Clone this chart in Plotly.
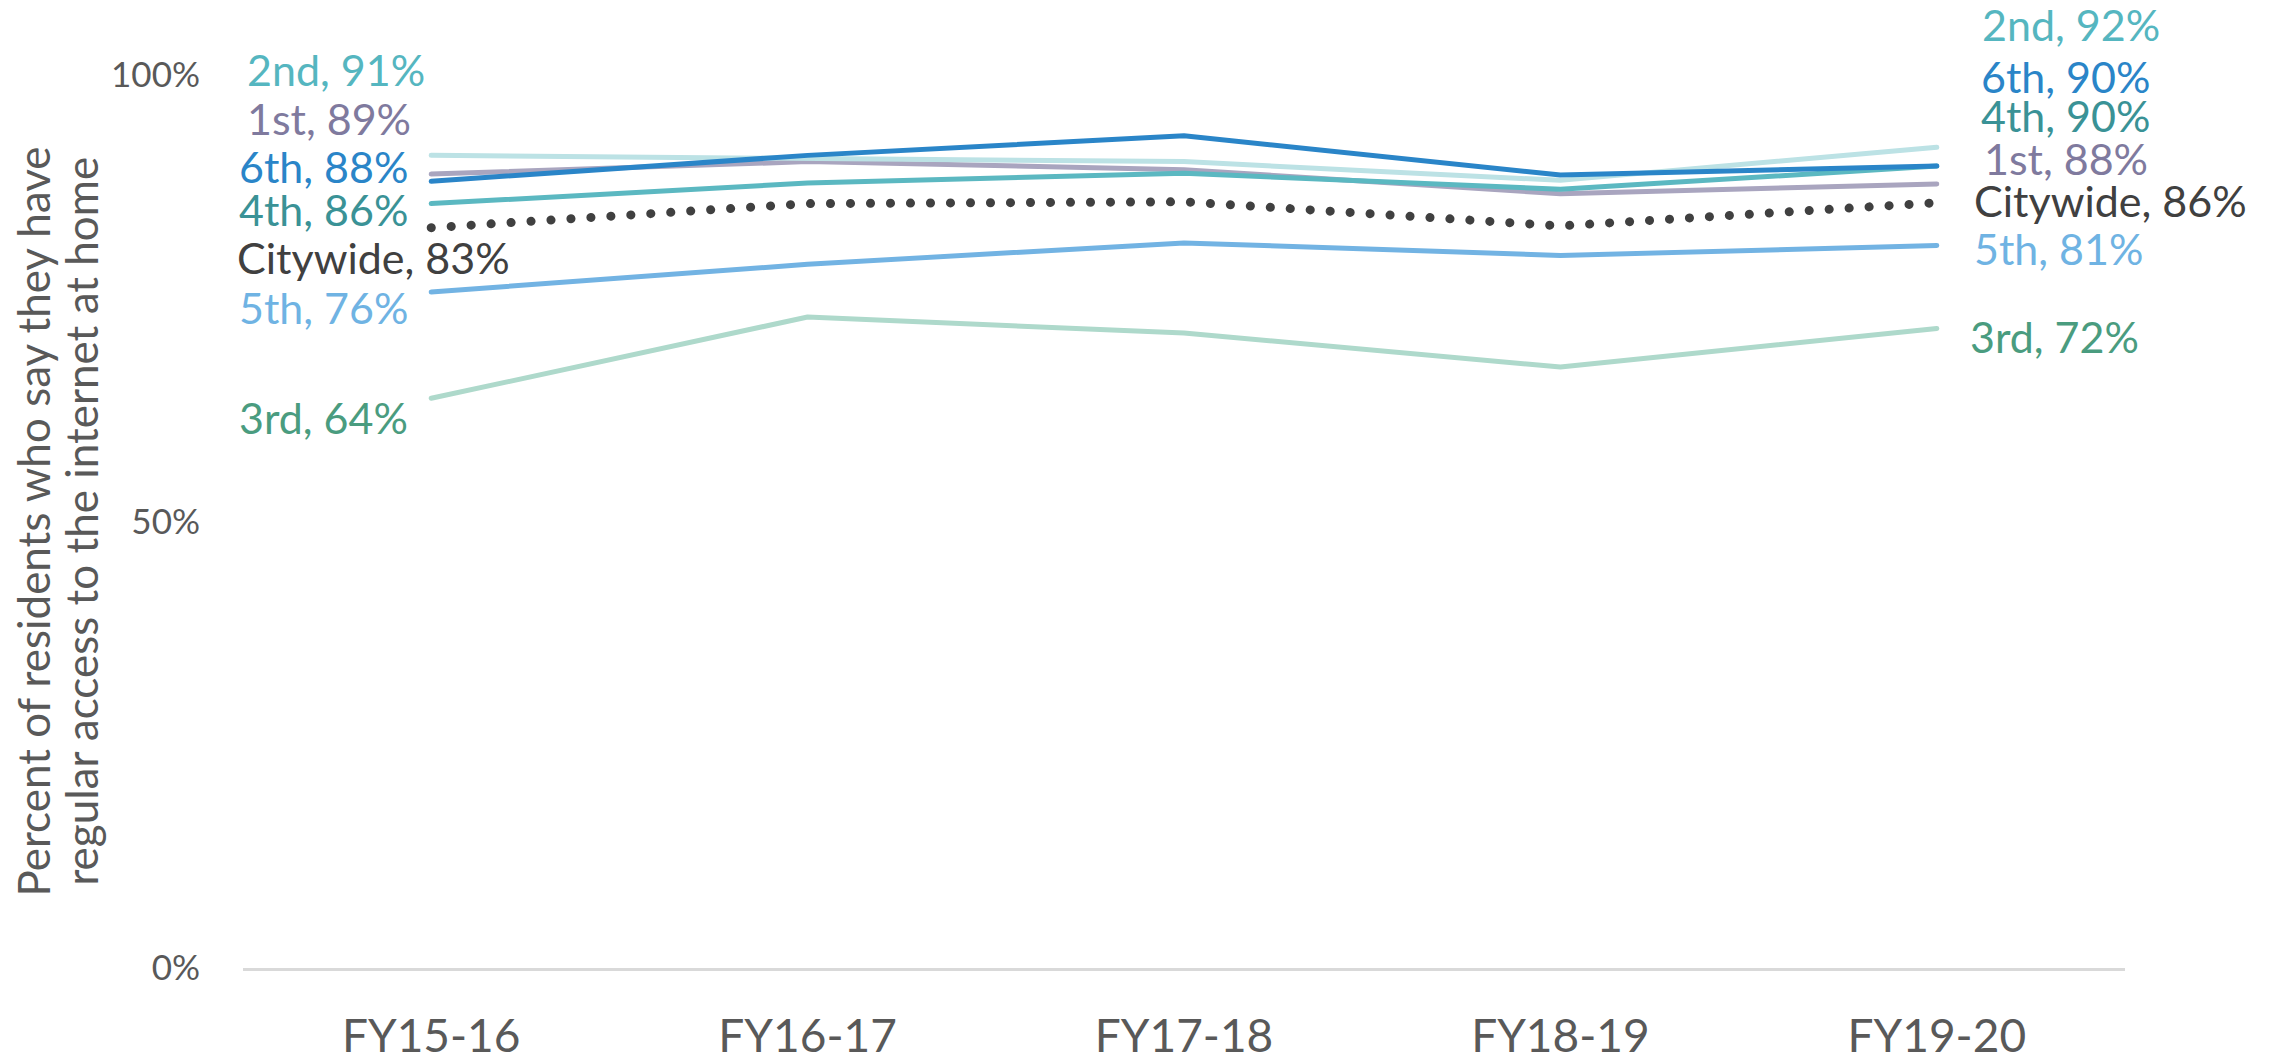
import plotly.graph_objects as go

# ---------------- data ----------------
categories = ["FY15-16", "FY16-17", "FY17-18", "FY18-19", "FY19-20"]
district_names = ["3rd", "5th", "Citywide", "1st", "2nd", "4th", "6th"]
vals_1st = [88.9, 90.3, 89.4, 86.7, 87.8]
vals_2nd = [91.0, 90.7, 90.3, 88.2, 91.9]
vals_3rd = [63.8, 72.9, 71.1, 67.3, 71.6]
vals_4th = [85.6, 87.9, 89.0, 87.2, 89.8]
vals_5th = [75.7, 78.8, 81.2, 79.8, 80.9]
vals_6th = [88.1, 91.0, 93.2, 88.8, 89.8]
vals_citywide = [82.9, 85.6, 85.8, 83.1, 85.7]
y_tick_vals = [0, 50, 100]
y_tick_text = ["0%", "50%", "100%"]
y_title_lines = ["Percent of residents who say they have",
                 "regular access to the internet at home"]

series = {
    "3rd": vals_3rd,
    "5th": vals_5th,
    "Citywide": vals_citywide,
    "1st": vals_1st,
    "2nd": vals_2nd,
    "4th": vals_4th,
    "6th": vals_6th,
}

# ---------------- styles ----------------
FONT = "Lato"
Y_MAX = 100.0
line_color = {
    "1st": "#a9a5bf", "2nd": "#bce2e5", "3rd": "#aed9cb", "4th": "#5bb8c1",
    "5th": "#72b3e3", "6th": "#2a85c8", "Citywide": "#404040",
}
label_color = {
    "1st": "#7f7a9e", "2nd": "#55b6c0", "3rd": "#4a9c7f", "4th": "#3a9296",
    "5th": "#6fb3e3", "6th": "#2a85c8", "Citywide": "#404040",
}
# label placement: (x shift in px from the end point, vertical position in axis units)
left_pos = {
    "2nd": (-186, 100.6), "1st": (-186, 95.1), "6th": (-194, 89.7),
    "4th": (-194, 84.9), "Citywide": (-196, 79.6), "5th": (-194, 74.0),
    "3rd": (-194, 61.7),
}
right_pos = {
    "2nd": (43, 105.6), "6th": (42, 99.8), "4th": (42, 95.5), "1st": (45, 90.6),
    "Citywide": (35, 86.0), "5th": (35, 80.6), "3rd": (31, 70.7),
}

fig = go.Figure()
for name in district_names:
    vals = series[name]
    if name == "Citywide":
        line = dict(color=line_color[name], width=9, dash="0.1px,19.9px")
    else:
        line = dict(color=line_color[name], width=5)
    fig.add_trace(go.Scatter(x=categories, y=vals, mode="lines", name=name,
                             line=line, hoverinfo="skip", showlegend=False))

annotations = []
for name in district_names:
    vals = series[name]
    dx, yy = left_pos[name]
    annotations.append(dict(
        xref="x", yref="paper", x=categories[0], y=yy / Y_MAX, xshift=dx, xanchor="left",
        yanchor="middle", showarrow=False, text=f"{name}, {round(vals[0])}%",
        font=dict(family=FONT, size=43, color=label_color[name])))
    dx, yy = right_pos[name]
    annotations.append(dict(
        xref="x", yref="paper", x=categories[-1], y=yy / Y_MAX, xshift=dx, xanchor="left",
        yanchor="middle", showarrow=False, text=f"{name}, {round(vals[-1])}%",
        font=dict(family=FONT, size=43, color=label_color[name])))

for xpos, txt in zip([-0.1121, -0.0866], y_title_lines):
    annotations.append(dict(
        xref="paper", yref="paper", x=xpos, y=0.5, xanchor="center", yanchor="middle",
        textangle=-90, showarrow=False, text=txt,
        font=dict(family=FONT, size=44, color="#595959")))

fig.update_layout(
    width=2272, height=1059,
    margin=dict(l=243, r=147, t=75, b=91),
    paper_bgcolor="white", plot_bgcolor="white",
    annotations=annotations,
    font=dict(family=FONT, color="#595959"),
    xaxis=dict(
        type="category", range=[-0.5, 4.5], showgrid=False, zeroline=False,
        showline=True, linecolor="#d9d9d9", linewidth=3, automargin=False,
        ticks="", tickfont=dict(family=FONT, size=46, color="#595959"),
        ticklabelstandoff=26,
    ),
    yaxis=dict(
        range=[0, Y_MAX], showgrid=False, zeroline=False, showline=False,
        tickvals=y_tick_vals, ticktext=y_tick_text, ticks="", automargin=False,
        tickfont=dict(family=FONT, size=35, color="#595959"),
        ticklabelstandoff=42,
    ),
)

fig.write_html(
    "out.html",
    config={"displayModeBar": False},
    post_script=(
        "document.body.style.margin='0';"
        "document.querySelectorAll('.scatterlayer path.js-line').forEach(function(p){"
        "p.style.strokeLinecap='round';p.style.strokeLinejoin='round';});"
    ),
)
